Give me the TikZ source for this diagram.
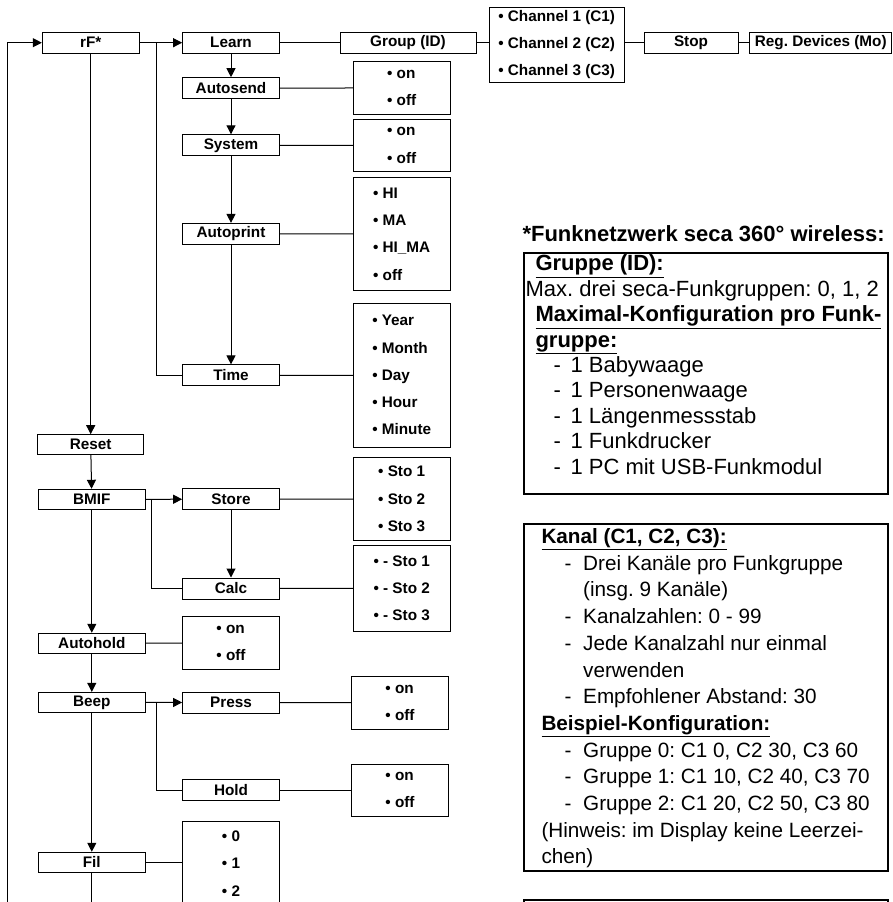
\documentclass[tikz,border=0pt]{standalone}
\usepackage{fontspec}
\setmainfont{Liberation Sans}
\frenchspacing
\usetikzlibrary{arrows.meta,positioning}
\begin{document}
\begin{tikzpicture}[x=1pt,y=-1pt,line width=1pt,>={Triangle[length=9pt,width=9pt]}]
\tikzstyle{menu}=[draw, minimum height=21pt, minimum width=96.7pt,
inner sep=0pt, font=\bfseries\fontsize{15.3}{18}\selectfont]
\tikzstyle{opts}=[draw, align=left, minimum width=96.7pt,
inner sep=0pt, font=\bfseries\fontsize{15.3}{27.3}\selectfont]
\tikzstyle{info}=[draw, line width=1.8pt, anchor=north west, inner sep=0pt]
\tikzstyle{infotext}=[anchor=north west, align=left, inner sep=0pt]

\useasboundingbox (0,0) rectangle (893,902);

\node[menu] at (90.7,42.7) (rf) {rF*};
\node[menu] at (231,42.7) (learn) {Learn};
\node[menu,minimum width=136pt] at (408,42.7) (group) {Group (ID)};
\node[opts,minimum width=135.3pt,minimum height=74.7pt,yshift=-2pt] at (556.7,42.7) (chan) {• Channel 1 (C1)\\• Channel 2 (C2)\\• Channel 3 (C3)};
\node[menu,minimum width=94pt] at (691,42.7) (stop) {Stop};
\node[menu,minimum width=141.7pt] at (820.8,42.7) (regdev) {Reg. Devices (Mo)};

\node[menu] at (231,88.2) (autosend) {Autosend};
\node[opts,minimum height=52.3pt] at (401.7,87.9) (autosendopt) {• on\\• off};
\node[menu] at (231,145.3) (system) {System};
\node[opts,minimum height=52.4pt] at (401.7,145.5) (systemopt) {• on\\• off};
\node[menu] at (231,233.9) (autoprint) {Autoprint};
\node[opts,minimum height=113.4pt] at (401.7,234) (autoprintopt) {• HI\\• MA\\• HI\_MA\\• off};
\node[menu] at (231,375.4) (time) {Time};
\node[opts,minimum height=143.7pt] at (401.7,375.2) (timeopt) {• Year\\• Month\\• Day\\• Hour\\• Minute};

\node[menu,minimum width=106.3pt,minimum height=19.6pt] at (90.7,444.5) (reset) {Reset};
\node[menu,minimum width=107pt,minimum height=20pt] at (91.8,499.3) (bmif) {BMIF};
\node[menu] at (231,499.2) (store) {Store};
\node[opts,minimum height=83.4pt] at (401.7,499) (storeopt) {• Sto 1\\• Sto 2\\• Sto 3};
\node[menu] at (231,588.5) (calc) {Calc};
\node[opts,minimum height=86.7pt] at (401.7,588.4) (calcopt) {• - Sto 1\\• - Sto 2\\• - Sto 3};
\node[menu,minimum width=107pt,minimum height=20pt] at (91.8,643.3) (autohold) {Autohold};
\node[opts,minimum height=52.6pt] at (231,643.1) (autoholdopt) {• on\\• off};
\node[menu,minimum width=107pt,minimum height=20pt] at (91.8,702.4) (beep) {Beep};
\node[menu] at (231,702.5) (press) {Press};
\node[opts,minimum height=52.6pt] at (400,702.8) (pressopt) {• on\\• off};
\node[menu] at (231,790) (hold) {Hold};
\node[opts,minimum height=52pt] at (400,790) (holdopt) {• on\\• off};
\node[menu,minimum width=107pt,minimum height=20pt] at (91.8,862.3) (fil) {Fil};
\node[opts,anchor=north,inner ysep=9.5pt] at (231,821) (filopt) {• 0\\• 1\\• 2};

\coordinate (loopbot) at (7.7,910);
\coordinate (learnfork) at (156,42.7);
\coordinate (bmiffork) at (151.7,499.3);
\coordinate (beepfork) at (156,702.4);
\coordinate (filbot) at (91.8,910);

\draw[->] (loopbot) |- (rf.west);
\draw[->] (rf) -- (learn);
\draw[->] (rf) -- (reset);
\draw (learnfork) |- (time.west);
\draw (learn) -- (group);
\draw (group.east) -- (group.east -| chan.west);
\draw (chan.east |- stop.west) -- (stop.west);
\draw (stop) -- (regdev);
\draw[->] (learn) -- (autosend);
\draw[->] (autosend) -- (system);
\draw[->] (system) -- (autoprint);
\draw[->] (autoprint) -- (time);
\draw (autosend) -- (autosendopt);
\draw (system) -- (systemopt);
\draw (autoprint) -- (autoprintopt);
\draw (time) -- (timeopt);
\draw[->] (reset) -- (bmif);
\draw[->] (bmif) -- (store);
\draw (bmiffork) |- (calc.west);
\draw[->] (store) -- (calc);
\draw (store) -- (storeopt);
\draw (calc) -- (calcopt);
\draw[->] (bmif) -- (autohold);
\draw (autohold) -- (autoholdopt);
\draw[->] (autohold) -- (beep);
\draw[->] (beep) -- (press);
\draw (beepfork) |- (hold.west);
\draw (press) -- (pressopt);
\draw (hold) -- (holdopt);
\draw[->] (beep) -- (fil);
\draw (fil.east) -- (fil.east -| filopt.west);
\draw (fil) -- (filbot);

\node[anchor=west,inner sep=0pt,font=\bfseries\fontsize{22}{26}\selectfont] at (522,233.3) (heading) {*Funknetzwerk seca 360° wireless:};

\node[info,minimum width=364pt,minimum height=241.6pt] at (522.7,251.7) (gruppebox) {};
\node[info,minimum width=364pt,minimum height=347.3pt] at (522.7,522.7) (kanalbox) {};
\node[info,minimum width=364pt,minimum height=60pt] at (522.7,899.3) (nextbox) {};

\node[infotext,font=\fontsize{22}{25.4}\selectfont] at (525,254.5) (gruppetext) {%
\hspace*{10pt}\underline{\textbf{Gruppe (ID):}}\\
Max. drei seca-Funkgruppen: 0, 1, 2\\
\hspace*{10pt}\underline{\textbf{Maximal-Konfiguration pro Funk-}}\\
\hspace*{10pt}\underline{\textbf{gruppe:}}\\
\hspace*{28pt}-\hspace*{9.7pt}1 Babywaage\\
\hspace*{28pt}-\hspace*{9.7pt}1 Personenwaage\\
\hspace*{28pt}-\hspace*{9.7pt}1 Längenmessstab\\
\hspace*{28pt}-\hspace*{9.7pt}1 Funkdrucker\\
\hspace*{28pt}-\hspace*{9.7pt}1 PC mit USB-Funkmodul};

\node[infotext,font=\fontsize{20.7}{26.7}\selectfont] at (541,528) (kanaltext) {%
\underline{\textbf{Kanal (C1, C2, C3):}}\\
\hspace*{23pt}-\hspace*{11.8pt}Drei Kanäle pro Funkgruppe\\
\hspace*{41.7pt}(insg. 9 Kanäle)\\
\hspace*{23pt}-\hspace*{11.8pt}Kanalzahlen: 0 - 99\\
\hspace*{23pt}-\hspace*{11.8pt}Jede Kanalzahl nur einmal\\
\hspace*{41.7pt}verwenden\\
\hspace*{23pt}-\hspace*{11.8pt}Empfohlener Abstand: 30\\
\underline{\textbf{Beispiel-Konfiguration:}}\\
\hspace*{23pt}-\hspace*{11.8pt}Gruppe 0: C1 0, C2 30, C3 60\\
\hspace*{23pt}-\hspace*{11.8pt}Gruppe 1: C1 10, C2 40, C3 70\\
\hspace*{23pt}-\hspace*{11.8pt}Gruppe 2: C1 20, C2 50, C3 80\\
(Hinweis: im Display keine Leerzei-\\
chen)};

\end{tikzpicture}
\end{document}
